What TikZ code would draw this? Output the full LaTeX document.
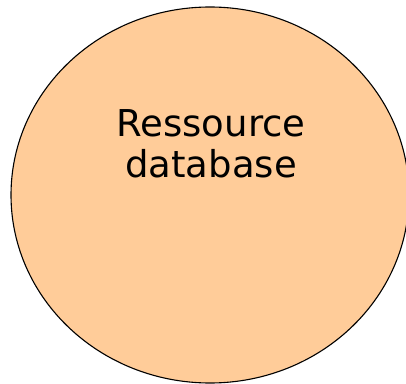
\documentclass[tikz,border=0pt]{standalone}
\usepackage{fontspec}
\setmainfont{DejaVu Sans}
\usetikzlibrary{shapes.geometric}
\definecolor{peach}{HTML}{FFCC99}
\tikzset{
  blob/.style={ellipse, draw=black, fill=peach, line width=1.1pt, inner sep=0pt},
  lbl/.style={align=center, inner sep=0pt, font=\fontsize{37}{41}\selectfont}
}
\begin{document}
\begin{tikzpicture}[x=1pt,y=1pt]
\useasboundingbox (0,0) rectangle (406,383);
\clip (0,0) rectangle (406,383);
\node[blob, minimum width=398pt, minimum height=376pt] (db) at (210,188) {};
\node[lbl, anchor=base] (t) at (211,205) {Ressource\\database};
\end{tikzpicture}
\end{document}
